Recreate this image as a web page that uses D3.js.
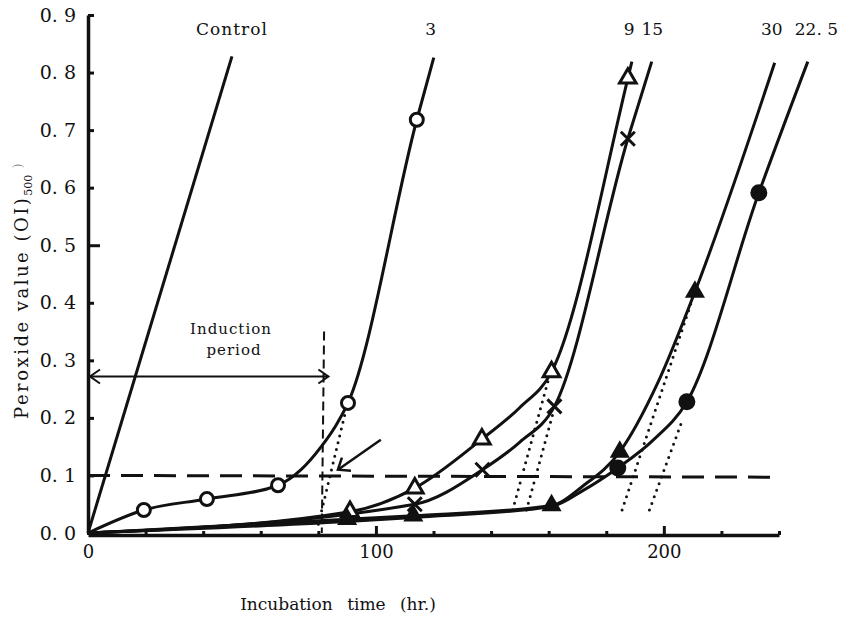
<!DOCTYPE html>
<html>
<head>
<meta charset="utf-8">
<script src="https://cdn.jsdelivr.net/npm/d3@7"></script>
<style>
  body { margin: 0; background: #fff; }
</style>
</head>
<body>
<script>
const width = 845,
  height = 617;

const serif = "'DejaVu Serif', 'Liberation Serif', 'Noto Serif', serif";

// series: [hours, OD500]
const controlLine = [[0, 0], [50, 0.828]];
const line3 = [[0, 0], [19.4, 0.040], [41.3, 0.059], [66, 0.083], [74, 0.110], [81, 0.150], [86, 0.186], [90.3, 0.226], [114.2, 0.718], [120.1, 0.826]];
const line9 = [[0, 0], [91, 0.037], [113.5, 0.078], [136.8, 0.163], [150, 0.218], [161, 0.280], [187.5, 0.790], [188.9, 0.819]];
const line15 = [[0, 0], [113.5, 0.050], [137, 0.110], [150, 0.158], [162, 0.220], [187.5, 0.685], [195.8, 0.819]];
const line30 = [[0, 0], [90, 0.024], [113, 0.030], [161, 0.048], [172, 0.082], [184.7, 0.141], [198, 0.262], [210.8, 0.419], [238.5, 0.817]];
const line225 = [[0, 0], [90, 0.020], [113, 0.027], [161, 0.046], [172, 0.074], [184, 0.113], [196, 0.160], [208, 0.228], [233, 0.591], [250, 0.819]];

const openCircles = [[19.4, 0.040], [41.3, 0.059], [66, 0.083], [90.3, 0.226], [114.2, 0.718]];
const openTriangles = [[91, 0.037], [113.5, 0.078], [136.8, 0.163], [161, 0.280], [187.5, 0.790]];
const crosses = [[113.5, 0.050], [137, 0.110], [162, 0.220], [187.5, 0.685]];
const filledTriangles = [[90, 0.024], [113, 0.030], [161, 0.048], [184.7, 0.141], [210.8, 0.419]];
const filledCircles = [[184, 0.113], [208, 0.228], [233, 0.591]];

// dotted tangents down to the baseline
const tangents = [
  [[80, 0.015], [89.5, 0.212]],
  [[147.5, 0.040], [160, 0.268]],
  [[152.3, 0.040], [161.5, 0.208]],
  [[185.5, 0.040], [209.5, 0.400]],
  [[195, 0.040], [206, 0.190]]
];

const seriesLabels = ['Control', '3', '9', '15', '30', '22. 5'];
const labelHours = [50, 119, 188, 196, 237.5, 253];

const yTicks = [0, 0.1, 0.2, 0.3, 0.4, 0.5, 0.6, 0.7, 0.8, 0.9];
const xTicks = [0, 20, 40, 60, 80, 100, 120, 140, 160, 180, 200, 220, 240];
const xLabelTicks = [0, 100, 200];

const x = d3.scaleLinear().domain([0, 240]).range([88, 779]);
const y = d3.scaleLinear().domain([0, 0.9]).range([533, 15]);

const svg = d3.select('body').append('svg')
  .attr('width', width)
  .attr('height', height)
  .attr('font-family', serif);

const line = d3.line()
  .x(d => x(d[0]))
  .y(d => y(d[1]))
  .curve(d3.curveMonotoneX);

const straight = d3.line()
  .x(d => x(d[0]))
  .y(d => y(d[1]));

// axes
const yAxis = svg.append('g')
  .attr('transform', `translate(${x(0)},0)`)
  .call(d3.axisLeft(y)
    .tickValues(yTicks)
    .tickSizeInner(-6)
    .tickSizeOuter(0)
    .tickPadding(12)
    .tickFormat(d => d.toFixed(1).replace('.', '. ')))
  .attr('font-family', serif)
  .attr('font-size', 19);
yAxis.select('.domain').attr('stroke', '#111').attr('stroke-width', 3.5);
yAxis.selectAll('.tick line').attr('stroke', '#111').attr('stroke-width', 3)
  .attr('x2', d => d === 0.5 ? 12 : 6);
yAxis.selectAll('.tick text').attr('fill', '#111');

const xAxis = svg.append('g')
  .attr('transform', `translate(0,${y(0) + 2})`)
  .call(d3.axisBottom(x)
    .tickValues(xTicks)
    .tickSizeInner(-4)
    .tickSizeOuter(0)
    .tickPadding(10)
    .tickFormat(d => xLabelTicks.includes(d) ? d : ''))
  .attr('font-family', serif)
  .attr('font-size', 18);
xAxis.select('.domain').attr('stroke', '#111').attr('stroke-width', 3.5);
xAxis.selectAll('.tick line').attr('stroke', '#111').attr('stroke-width', 3)
  .attr('y2', d => (d === 100 || d === 200) ? -9 : -4);
xAxis.selectAll('.tick text').attr('fill', '#111');

// axis titles
svg.append('text')
  .attr('x', 338)
  .attr('y', 610)
  .attr('text-anchor', 'middle')
  .attr('font-size', 17)
  .attr('fill', '#111')
  .style('word-spacing', '9px')
  .text('Incubation time (hr.)');

const yt = svg.append('text')
  .attr('transform', 'translate(28,290) rotate(-90)')
  .attr('text-anchor', 'middle')
  .attr('font-size', 18)
  .attr('fill', '#111')
  .style('letter-spacing', '2.5px');
yt.append('tspan').text('Peroxide value (OI)');
yt.append('tspan').attr('dy', 4).attr('font-size', 11).style('letter-spacing', '0px').text('500');
yt.append('tspan').attr('dy', -10).attr('font-size', 12).attr('fill', '#999').text(' )');

// reference lines
svg.append('path')
  .datum([[0, 0.100], [240, 0.097]])
  .attr('d', straight)
  .attr('fill', 'none')
  .attr('stroke', '#111')
  .attr('stroke-width', 3)
  .attr('stroke-dasharray', '22,11');

svg.append('path')
  .datum([[82, 0.35], [81.2, 0]])
  .attr('d', straight)
  .attr('fill', 'none')
  .attr('stroke', '#111')
  .attr('stroke-width', 2)
  .attr('stroke-dasharray', '9,5');

// induction period double arrow
const arrowY = y(0.272);
svg.append('line')
  .attr('x1', x(0) + 2).attr('x2', x(83.5))
  .attr('y1', arrowY).attr('y2', arrowY)
  .attr('stroke', '#111').attr('stroke-width', 2);
svg.append('path')
  .attr('d', `M${x(0) + 12},${arrowY - 7}L${x(0) + 2},${arrowY}L${x(0) + 12},${arrowY + 7}`)
  .attr('fill', 'none').attr('stroke', '#111').attr('stroke-width', 2);
svg.append('path')
  .attr('d', `M${x(83.5) - 10},${arrowY - 7}L${x(83.5)},${arrowY}L${x(83.5) - 10},${arrowY + 7}`)
  .attr('fill', 'none').attr('stroke', '#111').attr('stroke-width', 2);

svg.append('text')
  .attr('x', 231).attr('y', 334)
  .attr('text-anchor', 'middle')
  .attr('font-size', 15)
  .attr('fill', '#111')
  .style('letter-spacing', '1px')
  .text('Induction');
svg.append('text')
  .attr('x', 234).attr('y', 355)
  .attr('text-anchor', 'middle')
  .attr('font-size', 15)
  .attr('fill', '#111')
  .style('letter-spacing', '1px')
  .text('period');

// pointer arrow toward the onset
const ax1 = x(101.7), ay1 = y(0.162), ax2 = x(86.8), ay2 = y(0.110);
svg.append('line')
  .attr('x1', ax1).attr('y1', ay1).attr('x2', ax2).attr('y2', ay2)
  .attr('stroke', '#111').attr('stroke-width', 2.5);
svg.append('path')
  .attr('d', `M${ax2 + 4},${ay2 - 12}L${ax2},${ay2}L${ax2 + 13},${ay2 + 1}`)
  .attr('fill', 'none').attr('stroke', '#111').attr('stroke-width', 2.5);

// dotted tangents
svg.append('g')
  .selectAll('path')
  .data(tangents)
  .enter().append('path')
  .attr('d', straight)
  .attr('fill', 'none')
  .attr('stroke', '#111')
  .attr('stroke-width', 3)
  .attr('stroke-linecap', 'round')
  .attr('stroke-dasharray', '0,7');

// curves
svg.append('g')
  .selectAll('path')
  .data([controlLine, line3, line9, line15, line30, line225])
  .enter().append('path')
  .attr('d', line)
  .attr('fill', 'none')
  .attr('stroke', '#111')
  .attr('stroke-width', 3)
  .attr('stroke-linejoin', 'round');

// markers
const tri = d3.symbol().type(d3.symbolTriangle).size(120);
const markers = svg.append('g');

markers.selectAll('.tri-open')
  .data(openTriangles)
  .enter().append('path')
  .attr('transform', d => `translate(${x(d[0])},${y(d[1])})`)
  .attr('d', tri)
  .attr('fill', '#fff')
  .attr('stroke', '#111')
  .attr('stroke-width', 3);

markers.selectAll('.tri-filled')
  .data(filledTriangles)
  .enter().append('path')
  .attr('transform', d => `translate(${x(d[0])},${y(d[1])})`)
  .attr('d', tri)
  .attr('fill', '#111')
  .attr('stroke', '#111')
  .attr('stroke-width', 2);

markers.selectAll('.circ-open')
  .data(openCircles)
  .enter().append('circle')
  .attr('cx', d => x(d[0]))
  .attr('cy', d => y(d[1]))
  .attr('r', 6.5)
  .attr('fill', '#fff')
  .attr('stroke', '#111')
  .attr('stroke-width', 3);

markers.selectAll('.circ-filled')
  .data(filledCircles)
  .enter().append('circle')
  .attr('cx', d => x(d[0]))
  .attr('cy', d => y(d[1]))
  .attr('r', 8.5)
  .attr('fill', '#111');

markers.selectAll('.cross')
  .data(crosses)
  .enter().append('path')
  .attr('transform', d => `translate(${x(d[0])},${y(d[1])})`)
  .attr('d', 'M-7,-7L7,7M-7,7L7,-7')
  .attr('fill', 'none')
  .attr('stroke', '#111')
  .attr('stroke-width', 3);

// series labels
svg.append('g')
  .selectAll('text')
  .data(seriesLabels)
  .enter().append('text')
  .attr('x', (d, i) => x(labelHours[i]))
  .attr('y', 35)
  .attr('text-anchor', 'middle')
  .attr('font-size', 17)
  .attr('fill', '#111')
  .style('letter-spacing', d => d === 'Control' ? '1px' : '0px')
  .text(d => d);
</script>
</body>
</html>
